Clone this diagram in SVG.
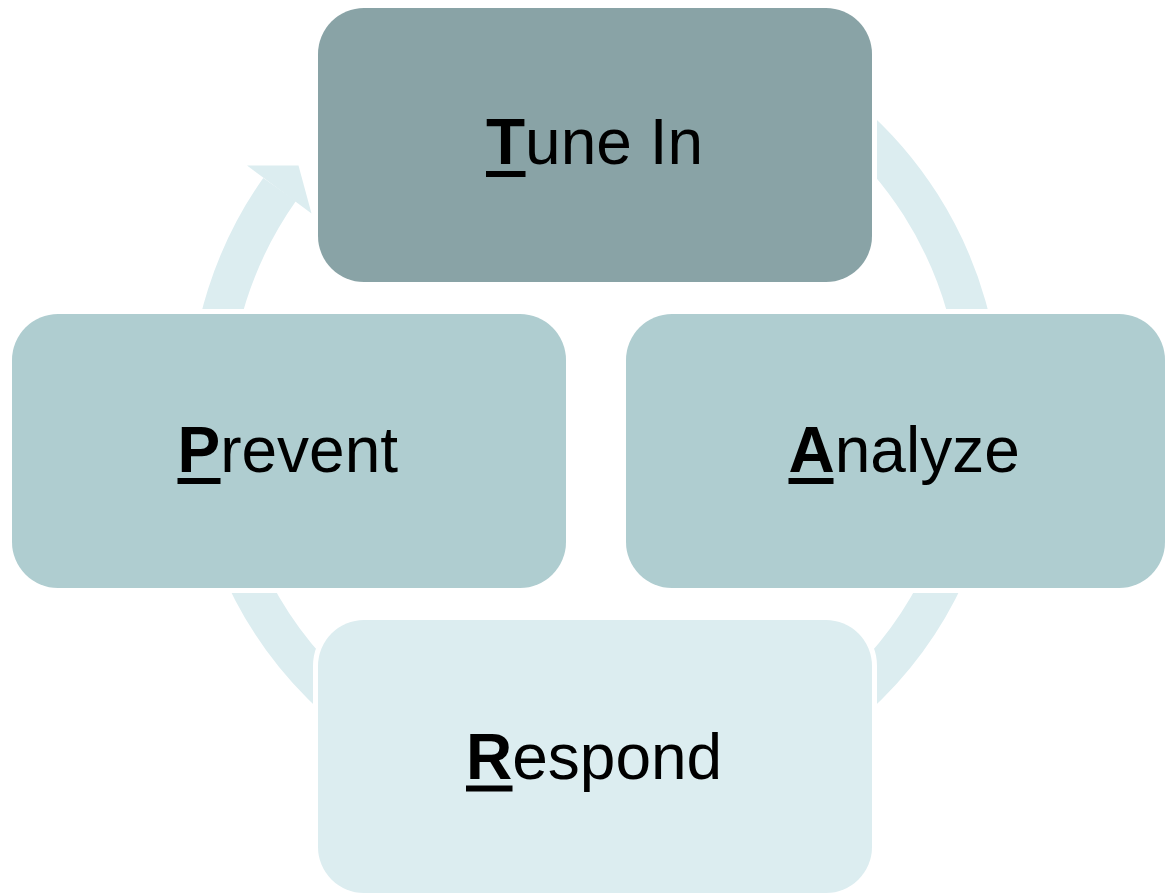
<svg xmlns="http://www.w3.org/2000/svg" width="1166" height="894" viewBox="0 0 1166 894">
<style>
.box{stroke:#FFFFFF;stroke-width:10;paint-order:stroke fill}
.lbl{font-family:"Liberation Sans",Arial,sans-serif;font-size:64px;fill:#000000}
.b{font-weight:bold}
.ul{fill:#000000}
.ring{fill:none;stroke:#DCEDF0;stroke-width:40;stroke-linecap:butt}
</style>
<rect width="1166" height="894" fill="#FFFFFF"/>
<g id="connectors">
<path class="ring" d="M346.9,116.3 A386,386 0 0 1 981,412 A386,386 0 0 1 595,798 A386,386 0 0 1 209,412 A386,386 0 0 1 279.6,189.5"/>
<polygon points="247,165.5 298.5,165.5 311.5,213.5" fill="#DCEDF0"/>
</g>
<g id="tune-in">
<rect class="box" x="318" y="8" width="554" height="274" rx="46" fill="#89A3A6"/>
<text class="lbl" x="486" y="163.5"><tspan class="b">T</tspan>une In</text>
<rect class="ul" x="486" y="171" width="39.5" height="6"/>
</g>
<g id="analyze">
<rect class="box" x="626" y="314" width="539" height="274" rx="46" fill="#AFCDD0"/>
<text class="lbl" x="788.5" y="471.5"><tspan class="b">A</tspan>nalyze</text>
<rect class="ul" x="788.5" y="478" width="45" height="6"/>
</g>
<g id="respond">
<rect class="box" x="318" y="620" width="554" height="273" rx="46" fill="#DCEDF0"/>
<text class="lbl" x="466" y="778.5"><tspan class="b">R</tspan>espond</text>
<rect class="ul" x="466" y="785.5" width="46.5" height="6"/>
</g>
<g id="prevent">
<rect class="box" x="12" y="314" width="554" height="274" rx="46" fill="#AFCDD0"/>
<text class="lbl" x="177.5" y="471.5"><tspan class="b">P</tspan>revent</text>
<rect class="ul" x="177.5" y="478" width="43" height="6"/>
</g>
</svg>
